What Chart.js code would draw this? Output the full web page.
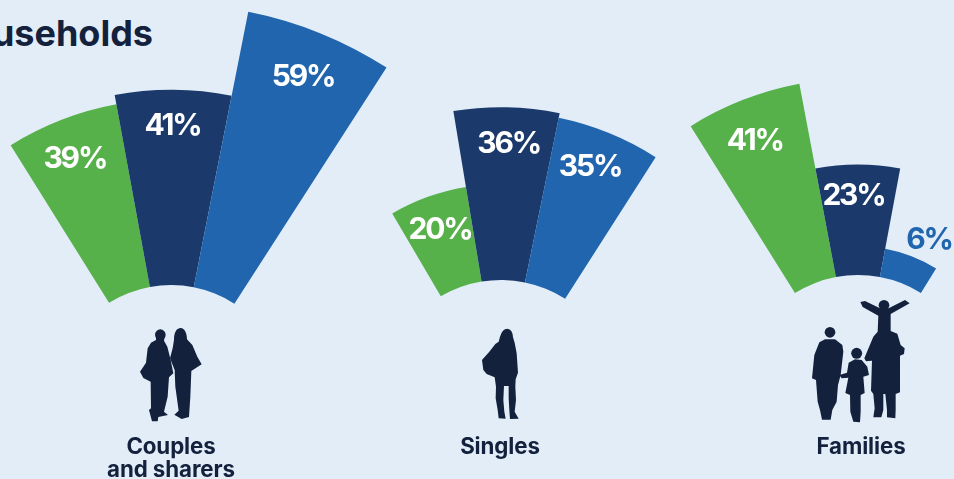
<!DOCTYPE html>
<html><head><meta charset="utf-8">
<script src="https://cdn.jsdelivr.net/npm/chart.js@4"></script>
<style>
html,body{margin:0;padding:0;width:954px;height:479px;overflow:hidden;background:#e2edf8;font-family:Inter,sans-serif}
#wrap{position:relative;width:954px;height:479px;overflow:hidden}
canvas{position:absolute}
.title{position:absolute;right:801px;top:11px;font:700 36px Inter;color:#14213d;white-space:nowrap}
.cat{position:absolute;top:434px;width:220px;text-align:center;font:700 22.3px/23px Inter;letter-spacing:-.1px;color:#14213d}
svg{position:absolute;left:0;top:0}
</style></head><body><div id="wrap">
<div class="title">Households</div>
<canvas id="c0"></canvas><canvas id="c1"></canvas><canvas id="c2"></canvas>
<div class="cat" style="left:61px">Couples<br>and sharers</div>
<div class="cat" style="left:390px">Singles</div>
<div class="cat" style="left:751px">Families</div>
<svg width="954" height="479" fill="#14213d">
<g transform="translate(120 320) scale(.3333)">
<circle cx="121" cy="44" r="16"/>
<path d="M108,50 L134,50 L132,62 L142,80 L152,120 L160,160 L147,172 L143,230 L132,275 L144,285 L115,291 L113,304 L96,304 L87,270 L93,265 L92,185 L70,174 L60,155 L78,128 L83,85 L93,68 L108,60 Z"/>
<path d="M162,60 C162,35 171,24 182,24 C194,24 201,40 201,58 L217,75 L232,110 L245,133 L214,153 L211,230 L207,291 L185,297 L163,284 L176,272 L166,200 L164,150 L150,115 L158,85 Z"/>
</g>
<g transform="translate(460 320) scale(.3333)">
<path d="M120,50 Q127,26 142,26 Q158,29 159,52 L164,68 L170,100 L174,158 L167,178 L166,200 L168,240 L164,275 L176,296 L150,297 L148,270 L146,235 L146,198 L132,198 L130,240 L133,275 L137,296 L116,295 L113,270 L107,235 L108,200 L104,172 L80,162 L70,150 L66,120 L88,95 L106,72 L116,65 Z"/>
</g>
<g transform="translate(800 295) scale(.3333)">
<circle cx="90" cy="112" r="16"/><circle cx="170" cy="175" r="16.5"/><circle cx="252" cy="31" r="16"/>
<path d="M58,142 L75,133 L105,133 L127,150 L130,170 L122,240 L114,270 L110,320 L97,345 L92,374 L66,374 L60,345 L53,320 L48,255 L36,250 L43,180 Z"/>
<path d="M146,203 L165,193 L185,195 L202,215 L207,240 L190,245 L194,294 L182,300 L182,350 L180,382 L160,380 L151,350 L150,300 L136,294 L145,248 L125,250 L118,240 L141,233 Z"/>
<path d="M193,190 L220,125 L233,110 L235,62 L188,36 L181,21 L195,18 L240,40 L266,40 L315,15 L329,25 L272,57 L272,108 L292,116 L302,150 L314,160 L312,177 L300,182 L300,292 L287,297 L287,345 L286,370 L261,367 L261,345 L256,297 L250,297 L250,345 L244,367 L220,367 L224,340 L220,297 L213,287 L216,197 L198,199 Z"/>
</g>
</svg>
</div>
<script>
const categories = ['Green share','Navy share','Blue share'];
const couplesValues = [39,41,59];
const singlesValues = [20,36,35];
const familiesValues = [41,23,6];

const COLORS = ['#57b14a','#1b3a6b','#2065ae'];
const SIZE = 820;

const ringPlugin = {
  id:'ring',
  afterDatasetsUpdate(chart){
    const s = chart.scales.r, inner = s.getDistanceFromCenterForValue(0);
    chart.getDatasetMeta(0).data.forEach(a => { a.innerRadius = inner; });
  },
  afterDatasetsDraw(chart){
    const s = chart.scales.r, ctx = chart.ctx, meta = chart.getDatasetMeta(0);
    const o = chart.options.plugins.ring;
    ctx.save();
    ctx.font = '700 30px Inter';
    ctx.letterSpacing = '-2.2px';
    ctx.textAlign = 'center'; ctx.textBaseline = 'middle';
    meta.data.forEach((a,i)=>{
      const v = chart.data.datasets[0].data[i];
      const r = s.getDistanceFromCenterForValue(v) + o.offsets[i];
      const ang = (a.startAngle + a.endAngle)/2 + o.nudges[i]*Math.PI/180;
      ctx.fillStyle = o.offsets[i] > 0 ? COLORS[i] : '#ffffff';
      ctx.fillText(v+'%', s.xCenter + Math.cos(ang)*r - 0.5, s.yCenter + Math.sin(ang)*r + 3.5);
    });
    ctx.restore();
  }
};

function make(id, values, cx, cy, hole, unit, start, sweep, offsets, nudges){
  const cv = document.getElementById(id);
  cv.width = SIZE; cv.height = SIZE;
  cv.style.width = SIZE+'px'; cv.style.height = SIZE+'px';
  cv.style.left = (cx-SIZE/2)+'px'; cv.style.top = (cy-SIZE/2)+'px';
  new Chart(cv,{
    type:'polarArea',
    data:{labels:categories,datasets:[{data:values,backgroundColor:COLORS,borderWidth:0,angle:sweep}]},
    options:{
      responsive:false,animation:false,
      layout:{padding:0},
      plugins:{legend:{display:false},tooltip:{enabled:false},ring:{offsets,nudges}},
      scales:{r:{startAngle:start,min:-hole/unit,max:(SIZE/2-hole)/unit,
        ticks:{display:false},grid:{display:false},angleLines:{display:false},pointLabels:{display:false}}}
    },
    plugins:[ringPlugin]
  });
}
make('c0',couplesValues,171,402,117,4.76,-32,21.6,[-38,-33,-44],[0,0,0]);
make('c1',singlesValues,501,399,119,4.8,-30.4,21,[-32,-33,-35],[0.6,0.7,-1.3]);
make('c2',familiesValues,858,394,119,4.8,-32,21.3,[-39,-28,25],[-0.45,-1.1,3.2]);
</script></body></html>
